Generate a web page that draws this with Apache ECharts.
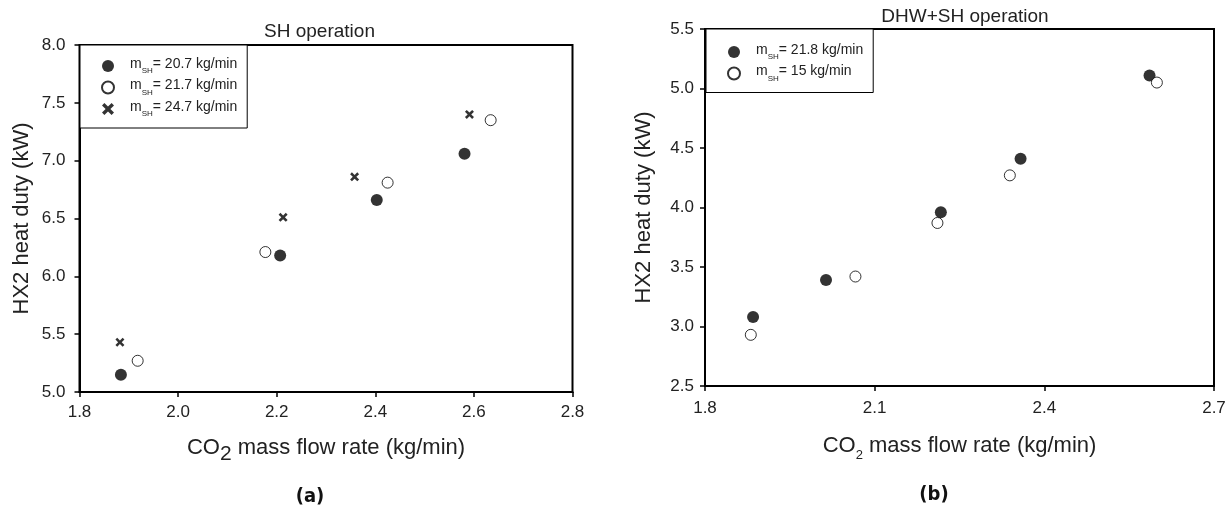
<!DOCTYPE html>
<html>
<head>
<meta charset="utf-8">
<script src="https://cdn.jsdelivr.net/npm/echarts@6/dist/echarts.min.js"></script>
<style>
  html, body { margin: 0; padding: 0; background: #fff; }
  #main { width: 1232px; height: 517px; }
</style>
</head>
<body>
<div id="main"></div>
<script>
// (a) SH operation: [CO2 mass flow rate (kg/min), HX2 heat duty (kW)]
const shFlow207 = [[1.884, 5.15], [2.207, 6.18], [2.403, 6.66], [2.581, 7.06]];
const shFlow217 = [[1.918, 5.27], [2.177, 6.21], [2.425, 6.81], [2.634, 7.35]];
const shFlow247 = [[1.882, 5.43], [2.213, 6.51], [2.358, 6.86], [2.591, 7.40]];

// (b) DHW+SH operation
const dhwFlow218 = [[1.885, 3.08], [2.014, 3.39], [2.217, 3.96], [2.358, 4.41], [2.586, 5.11]];
const dhwFlow15 = [[1.881, 2.93], [2.066, 3.42], [2.211, 3.87], [2.339, 4.27], [2.599, 5.05]];

// legend values for m_SH (kg/min)
const legendA = ['20.7', '21.7', '24.7'];
const legendB = ['21.8', '15'];

const FONT = '"Liberation Sans", Arial, sans-serif';
const TXT = '#222';
const crossPath = 'path://M2,0L5,3L8,0L10,2L7,5L10,8L8,10L5,7L2,10L0,8L3,5L0,2Z';

const chart = echarts.init(document.getElementById('main'));

function xAxisCfg(gridIndex, min, max, interval, gap, subStyle) {
  return {
    type: 'value', gridIndex, min, max, interval,
    name: '{t|CO}{s|2}{t| mass flow rate (kg/min)}',
    nameLocation: 'middle', nameGap: gap,
    nameTextStyle: {
      rich: {
        t: { fontFamily: FONT, fontSize: 22, color: TXT, lineHeight: 22, verticalAlign: 'top' },
        s: Object.assign({ fontFamily: FONT, color: TXT, verticalAlign: 'bottom' }, subStyle)
      }
    },
    axisLine: { show: true, lineStyle: { color: '#000', width: 2 } },
    axisTick: { show: true, inside: false, length: 5, lineStyle: { color: '#000', width: 1.5 } },
    axisLabel: { fontFamily: FONT, fontSize: 17, color: TXT, margin: gridIndex === 0 ? 12 : 14,
      formatter: v => v.toFixed(1) },
    splitLine: { show: false }
  };
}
function yAxisCfg(gridIndex, min, max, gap, margin) {
  return {
    type: 'value', gridIndex, min, max, interval: 0.5,
    name: 'HX2 heat duty (kW)', nameLocation: 'middle', nameGap: gap, nameRotate: 90,
    nameTextStyle: { fontFamily: FONT, fontSize: 22, color: TXT },
    axisLine: { show: true, lineStyle: { color: '#000', width: 2 } },
    axisTick: { show: true, inside: false, length: 5, lineStyle: { color: '#000', width: 1.5 } },
    axisLabel: { fontFamily: FONT, fontSize: 17, color: TXT, margin, formatter: v => v.toFixed(1) },
    splitLine: { show: false }
  };
}

const legendRich = {
  m: { fontFamily: FONT, fontSize: 14, color: TXT, lineHeight: 14, verticalAlign: 'top' },
  s: { fontFamily: FONT, fontSize: 8, color: TXT, lineHeight: 18, verticalAlign: 'bottom' }
};
function legendCfg(left, top, padTop, names) {
  return {
    orient: 'vertical', left, top,
    data: names,
    backgroundColor: '#fff',
    borderColor: '#000', borderWidth: 1, borderRadius: 0,
    padding: [padTop, 10, 10, 21],
    itemWidth: 34, itemHeight: 12, itemGap: 3.5,
    formatter: n => '{m|m}{s|SH}{m|= ' + n + ' kg/min}',
    textStyle: { rich: legendRich }
  };
}

const filled = { color: '#000' };
const open = { color: '#fff', borderColor: '#000', borderWidth: 1 };

chart.setOption({
  backgroundColor: '#fff',
  animation: false,
  grid: [
    { left: 79.5, top: 45, width: 493, height: 347, show: true, borderColor: '#000', borderWidth: 2, backgroundColor: 'transparent' },
    { left: 705, top: 29, width: 509, height: 357, show: true, borderColor: '#000', borderWidth: 2, backgroundColor: 'transparent' }
  ],
  xAxis: [
    xAxisCfg(0, 1.8, 2.8, 0.2, 45, { fontSize: 21, lineHeight: 28 }),
    xAxisCfg(1, 1.8, 2.7, 0.3, 49, { fontSize: 13, lineHeight: 27 })
  ],
  yAxis: [
    yAxisCfg(0, 5, 8, 47, 14),
    yAxisCfg(1, 2.5, 5.5, 50, 11)
  ],
  legend: [legendCfg(80, 45, 12, legendA), legendCfg(706, 29, 14, legendB)],
  series: [
    { name: legendA[0], type: 'scatter', xAxisIndex: 0, yAxisIndex: 0, data: shFlow207,
      symbol: 'circle', symbolSize: 12, itemStyle: filled },
    { name: legendA[1], type: 'scatter', xAxisIndex: 0, yAxisIndex: 0, data: shFlow217,
      symbol: 'circle', symbolSize: 11, itemStyle: open },
    { name: legendA[2], type: 'scatter', xAxisIndex: 0, yAxisIndex: 0, data: shFlow247,
      symbol: crossPath, symbolSize: 9, itemStyle: filled },
    { name: legendB[0], type: 'scatter', xAxisIndex: 1, yAxisIndex: 1, data: dhwFlow218,
      symbol: 'circle', symbolSize: 12, itemStyle: filled },
    { name: legendB[1], type: 'scatter', xAxisIndex: 1, yAxisIndex: 1, data: dhwFlow15,
      symbol: 'circle', symbolSize: 11, itemStyle: open }
  ],
  graphic: [
    { type: 'text', x: 319.5, y: 32, style: { text: 'SH operation', fill: TXT,
      font: '19px ' + FONT, textAlign: 'center', textVerticalAlign: 'middle' } },
    { type: 'text', x: 965, y: 17, style: { text: 'DHW+SH operation', fill: TXT,
      font: '19px ' + FONT, textAlign: 'center', textVerticalAlign: 'middle' } },
    { type: 'text', x: 310, y: 497, style: { text: '(a)', fill: '#111',
      font: 'bold 20px "DejaVu Sans Condensed", Roboto, sans-serif', textAlign: 'center', textVerticalAlign: 'middle' } },
    { type: 'text', x: 934, y: 495, style: { text: '(b)', fill: '#111',
      font: 'bold 20px "DejaVu Sans Condensed", Roboto, sans-serif', textAlign: 'center', textVerticalAlign: 'middle' } }
  ]
});
</script>
</body>
</html>
